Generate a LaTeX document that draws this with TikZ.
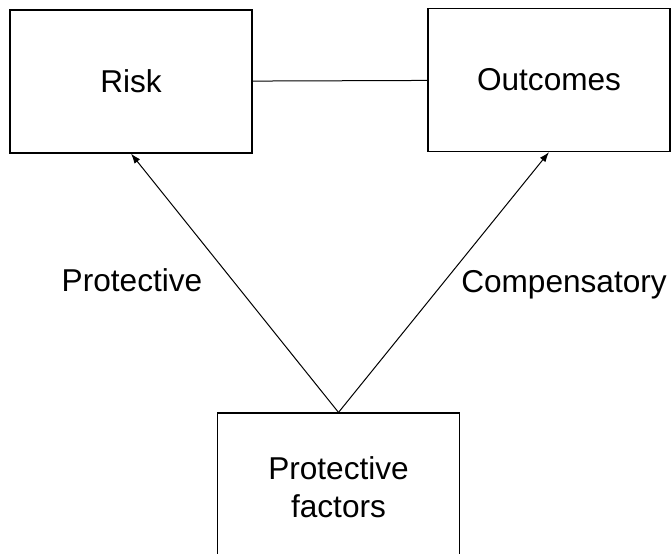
\documentclass[tikz,border=0pt]{standalone}
\usepackage{fontspec}
\setmainfont{Liberation Sans}
\usetikzlibrary{positioning,arrows.meta}

\begin{document}
\begin{tikzpicture}[x=0.5pt,y=-0.5pt,
                    thin,
                    box node/.style={rectangle,draw,line width=0.6pt,minimum width=121pt,minimum height=71.5pt,align=center,font=\fontsize{15.8}{19}\selectfont},
                    tag node/.style={font=\fontsize{15.8}{19}\selectfont},
                    link/.style={line width=0.5pt},
                    arrow/.style={line width=0.5pt,-{Latex[length=5pt,width=3.5pt]}}
                   ]
    \useasboundingbox (0,0) rectangle (672,553);
    \node[box node] (risk) at (131,81.5) {Risk};
    \node[box node] (outcomes) at (549,80) {Outcomes};
    \node[box node,minimum height=74pt] (factors) at (338.5,487) {Protective\\factors};

    \node[tag node] (protective) at (132,280) {Protective};
    \node[tag node] (compensatory) at (564,285) {Compensatory};

    \draw[link] (risk) -- (outcomes); % plain line, no tip
    \draw[arrow] (factors.north) -- (risk.south);
    \draw[arrow] (factors.north) -- (outcomes.south);
\end{tikzpicture}
\end{document}
